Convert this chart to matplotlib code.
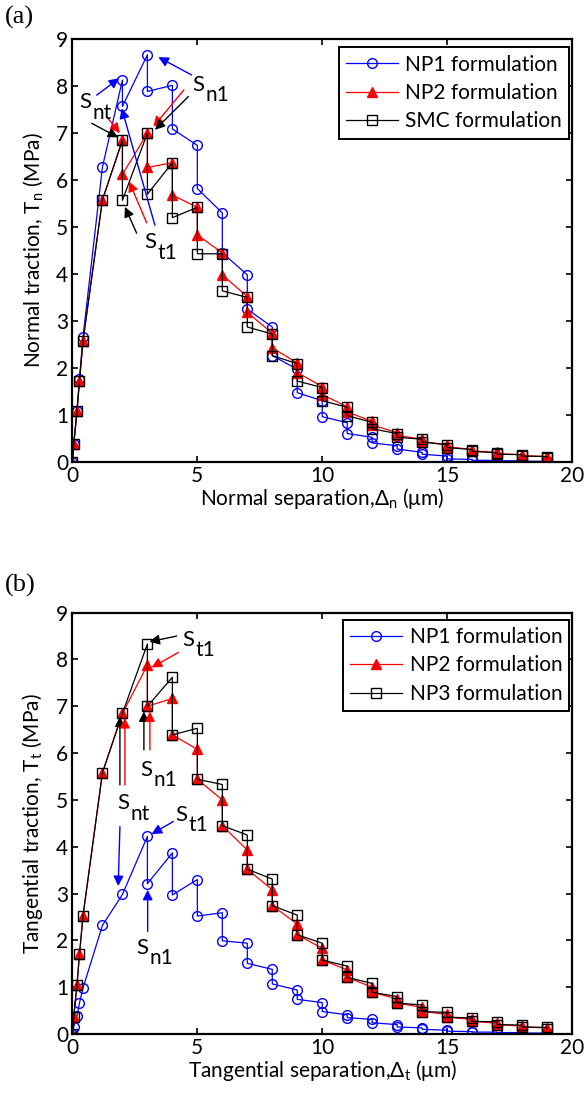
import matplotlib.pyplot as plt

plt.rcParams['font.family'] = ['Lato', 'DejaVu Sans']
plt.rcParams['mathtext.default'] = 'regular'
plt.rcParams['font.size'] = 15

# separation grids (um): a smooth ramp, then a drop at every integer step
x_normal = [0, 0.05, 0.18, 0.28, 0.42, 1.2, 2, 2,
            3, 3, 4, 4, 5, 5, 6, 6, 7, 7, 8, 8, 9, 9, 10, 10, 11, 11,
            12, 12, 13, 13, 14, 14, 15, 15, 16, 16, 17, 17, 18, 18, 19, 19]
x_tang = [0, 0.05, 0.18, 0.28, 0.42, 1.2, 2,
          3, 3, 4, 4, 5, 5, 6, 6, 7, 7, 8, 8, 9, 9, 10, 10, 11, 11,
          12, 12, 13, 13, 14, 14, 15, 15, 16, 16, 17, 17, 18, 18, 19, 19]

# normal traction (MPa)
tn_np1 = [0, 0.38, 1.08, 1.76, 2.65, 6.28, 8.13, 7.57,
          8.67, 7.89, 8.02, 7.09, 6.74, 5.82, 5.30, 4.45, 3.98, 3.25,
          2.87, 2.26, 1.97, 1.47, 1.30, 0.96, 0.83, 0.60, 0.52, 0.40,
          0.34, 0.27, 0.20, 0.16, 0.12, 0.06, 0.05, 0.03, 0.03, 0.02,
          0.02, 0.01, 0.01, 0.01]
tn_np2 = [0, 0.37, 1.07, 1.72, 2.57, 5.58, 6.85, 6.12,
          7.00, 6.27, 6.37, 5.68, 5.42, 4.83, 4.45, 3.98, 3.52, 3.18,
          2.74, 2.43, 2.10, 1.90, 1.60, 1.43, 1.17, 1.06, 0.86, 0.78,
          0.62, 0.56, 0.48, 0.43, 0.36, 0.32, 0.26, 0.23, 0.20, 0.17,
          0.15, 0.13, 0.11, 0.09]
tn_smc = [0, 0.37, 1.07, 1.72, 2.57, 5.58, 6.85, 5.57,
          7.00, 5.70, 6.37, 5.20, 5.42, 4.43, 4.43, 3.64, 3.50, 2.87,
          2.72, 2.26, 2.09, 1.72, 1.58, 1.30, 1.16, 0.98, 0.84, 0.70,
          0.60, 0.52, 0.48, 0.42, 0.36, 0.30, 0.26, 0.22, 0.19, 0.16,
          0.15, 0.12, 0.11, 0.08]

# tangential traction (MPa)
tt_np1 = [0, 0.15, 0.38, 0.66, 0.98, 2.32, 2.98,
          4.22, 3.21, 3.87, 2.97, 3.30, 2.52, 2.59, 1.99, 1.94, 1.51,
          1.38, 1.07, 0.94, 0.74, 0.67, 0.48, 0.41, 0.35, 0.31, 0.24,
          0.20, 0.15, 0.13, 0.10, 0.08, 0.06, 0.05, 0.04, 0.04, 0.03,
          0.03, 0.02, 0.02, 0.02]
tt_np2 = [0, 0.36, 1.05, 1.70, 2.52, 5.58, 6.85,
          7.88, 7.00, 7.17, 6.39, 6.08, 5.44, 5.00, 4.45, 3.93, 3.52,
          3.08, 2.74, 2.35, 2.12, 1.83, 1.58, 1.37, 1.21, 1.00, 0.89,
          0.75, 0.66, 0.57, 0.48, 0.42, 0.36, 0.31, 0.27, 0.23, 0.20,
          0.17, 0.15, 0.13, 0.11]
tt_np3 = [0, 0.36, 1.05, 1.70, 2.52, 5.58, 6.85,
          8.33, 7.00, 7.62, 6.39, 6.53, 5.44, 5.33, 4.45, 4.25, 3.52,
          3.31, 2.74, 2.54, 2.12, 1.94, 1.58, 1.45, 1.21, 1.08, 0.89,
          0.80, 0.66, 0.62, 0.48, 0.46, 0.36, 0.34, 0.27, 0.26, 0.20,
          0.19, 0.15, 0.14, 0.11]

labels_a = ['NP1 formulation', 'NP2 formulation', 'SMC formulation']
labels_b = ['NP1 formulation', 'NP2 formulation', 'NP3 formulation']

BLUE, RED, BLACK = '#0000ff', '#ff0000', '#000000'

# labelled arrows: (text position, subscript, [(colour, tail, head), ...])
notes_a = [
    ((0.27, 7.53), 'nt', [(BLUE, (0.97, 7.81), (1.87, 8.17)),
                          (BLACK, (0.77, 7.21), (1.83, 6.91)),
                          (RED, (1.37, 7.35), (1.90, 7.00))]),
    ((4.81, 7.90), 'n1', [(BLUE, (4.77, 8.24), (3.44, 8.62)),
                          (RED, (4.46, 7.92), (3.24, 7.14)),
                          (BLACK, (4.64, 7.78), (3.30, 7.07))]),
    ((2.87, 4.55), 't1', [(BLACK, (2.57, 4.87), (2.10, 5.43)),
                          (RED, (2.97, 5.09), (2.27, 5.97)),
                          (BLUE, (3.30, 5.04), (1.97, 7.53))]),
]
notes_b = [
    ((4.41, 8.29), 't1', [(BLACK, (4.17, 8.50), (3.08, 8.38)),
                          (RED, (4.24, 8.15), (3.17, 7.83))]),
    ((2.70, 5.51), 'n1', [(BLACK, (2.86, 6.07), (2.86, 6.89)),
                          (RED, (3.10, 6.07), (3.10, 6.89))]),
    ((1.79, 4.80), 'nt', [(BLACK, (1.90, 5.32), (1.90, 6.78)),
                          (RED, (2.10, 5.32), (2.10, 6.75)),
                          (BLUE, (1.90, 4.43), (1.83, 3.16))]),
    ((4.10, 4.56), 't1', [(BLUE, (4.04, 4.54), (3.17, 4.27))]),
    ((2.54, 1.71), 'n1', [(BLUE, (3.01, 2.19), (3.01, 3.08))]),
]


def draw_panel(ax, x, ys, labels, notes, xlabel, ylabel, legend_anchor):
    styles = [dict(color=BLUE, marker='o', mfc='none', mec=BLUE),
              dict(color=RED, marker='^', mfc=RED, mec=RED),
              dict(color=BLACK, marker='s', mfc='none', mec=BLACK)]
    for y, lab, st in zip(ys, labels, styles):
        ax.plot(x, y, lw=0.9, ms=7, mew=1.0, label=lab, **st)

    for (tx, ty), sub, arrows in notes:
        for c, tail, head in arrows:
            ax.annotate('', xy=head, xytext=tail,
                        arrowprops=dict(arrowstyle='-|>', color=c, lw=1.0,
                                        mutation_scale=15,
                                        shrinkA=0, shrinkB=0))
        ax.text(tx, ty, 'S', fontsize=16, ha='left', va='baseline')
        ax.annotate(sub, xy=(tx, ty), xytext=(9.5, -7.5),
                    textcoords='offset points', fontsize=15,
                    ha='left', va='baseline')

    ax.set_xlim(0, 20)
    ax.set_ylim(0, 9)
    ax.set_xticks([0, 5, 10, 15, 20])
    ax.set_yticks(range(10))
    ax.tick_params(direction='in', top=True, right=True, length=4,
                   width=1.2, labelsize=15, pad=3)
    for sp in ax.spines.values():
        sp.set_linewidth(1.6)
    ax.set_xlabel(xlabel, fontsize=15, labelpad=0)
    ax.set_ylabel(ylabel, fontsize=15, labelpad=8)
    leg = ax.legend(loc='upper right', bbox_to_anchor=legend_anchor,
                    borderaxespad=0, fontsize=15, handlelength=2.5,
                    labelspacing=0.4, handletextpad=0.35, borderpad=0.35,
                    fancybox=False, framealpha=1, edgecolor='black')
    leg.get_frame().set_linewidth(1.4)


fig = plt.figure(figsize=(5.84, 10.98), dpi=100)
ax_a = fig.add_axes([0.1241, 0.5795, 0.8553, 0.3847])
ax_b = fig.add_axes([0.1241, 0.0583, 0.8553, 0.3837])

draw_panel(ax_a, x_normal, [tn_np1, tn_np2, tn_smc], labels_a, notes_a,
           'Normal separation,$Δ_n$ (μm)', 'Normal traction, $T_n$ (MPa)',
           (0.995, 0.981))
draw_panel(ax_b, x_tang, [tt_np1, tt_np2, tt_np3], labels_b, notes_b,
           'Tangential separation,$Δ_t$ (μm)',
           'Tangential traction, $T_t$ (MPa)', (0.995, 0.983))

fig.text(0.008, 0.984, '(a)', family='Liberation Serif', fontsize=19,
         va='center')
fig.text(0.008, 0.467, '(b)', family='Liberation Serif', fontsize=19,
         va='center')

fig.savefig('out.png', dpi=100)
